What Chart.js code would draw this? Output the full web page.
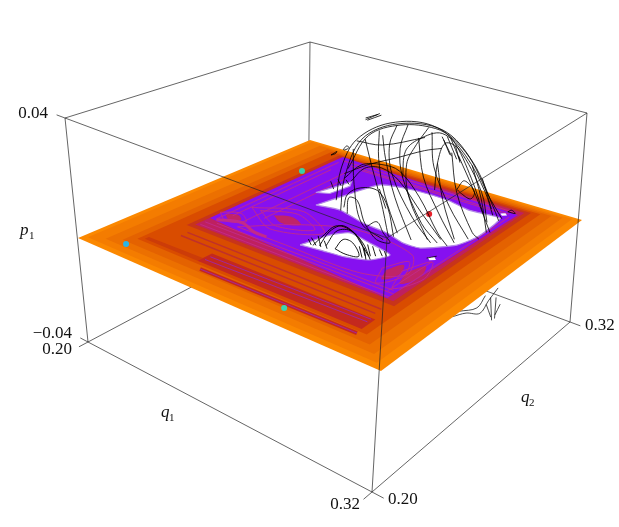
<!DOCTYPE html>
<html>
<head>
<meta charset="utf-8">
<script src="https://cdn.jsdelivr.net/npm/chart.js@4"></script>
<style>
  html, body { margin: 0; background: #fff; }
  canvas { display: block; }
</style>
</head>
<body>
<canvas id="chart3d" width="619" height="527"></canvas>
<script>
// axis ranges and tick labels
const q1Range = [0.20, 0.32];
const q2Range = [0.20, 0.32];
const pRange = [-0.04, 0.04];
const q1Ticks = ['0.20', '0.32'];
const q2Ticks = ['0.20', '0.32'];
const pTicks = ['\u22120.04', '0.04'];

// colour bands of the p1 = 0 slice, outermost first
const bandQ1Lo = [0.2000, 0.2020, 0.2072, 0.2120, 0.2150, 0.2198, 0.2216];
const bandQ1Hi = [0.3200, 0.3170, 0.3140, 0.3104, 0.3068, 0.3038, 0.3020];
const bandQ2Lo = [0.2000, 0.2024, 0.2054, 0.2084, 0.2120, 0.2296, 0.2318];
const bandQ2Hi = [0.3200, 0.3186, 0.3174, 0.3162, 0.3150, 0.3138, 0.3122];
const bandColors = ['#fb8800', '#f47c00', '#ec7000', '#e46200', '#d94c00', '#c8341a', '#be2060'];

// chaotic (purple) part of the slice
const seaQ1 = [0.2218, 0.2218, 0.3011, 0.2996];
const seaQ2 = [0.2387, 0.3136, 0.3093, 0.2322];

// white holes of the slice
const mainHoleQ1 = [0.2425, 0.2455, 0.2493, 0.2612, 0.2755, 0.2859, 0.2976, 0.2986, 0.2991, 0.2971, 0.2891, 0.2829, 0.2746, 0.2639, 0.2516];
const mainHoleQ2 = [0.2705, 0.2847, 0.3000, 0.3040, 0.3044, 0.3018, 0.3031, 0.2977, 0.2848, 0.2754, 0.2658, 0.2653, 0.2681, 0.2692, 0.2726];
const sliverQ1 = [0.2356, 0.2377, 0.2394, 0.2415, 0.2400];
const sliverQ2 = [0.2791, 0.2875, 0.2957, 0.2918, 0.2817];
const lowHoleQ1 = [0.2582, 0.2611, 0.2652, 0.2746, 0.2845, 0.2816, 0.2744, 0.2654];
const lowHoleQ2 = [0.2426, 0.2546, 0.2602, 0.2583, 0.2555, 0.2486, 0.2452, 0.2439];
const tinyHole1Q1 = [0.2945, 0.2960, 0.2975, 0.2960];
const tinyHole1Q2 = [0.2620, 0.2635, 0.2620, 0.2605];
const tinyHole2Q1 = [0.2958, 0.2971, 0.2984, 0.2971];
const tinyHole2Q2 = [0.3065, 0.3078, 0.3065, 0.3052];

// red islands inside the purple part
const islandQ1 = [
  [0.2236, 0.2272, 0.2308, 0.2272],
  [0.2368, 0.2428, 0.2488, 0.2428],
  [0.2893, 0.2917, 0.2941, 0.2917],
  [0.2951, 0.2975, 0.2999, 0.2975]
];
const islandQ2 = [
  [0.2444, 0.2468, 0.2444, 0.2420],
  [0.2544, 0.2574, 0.2544, 0.2514],
  [0.2466, 0.2526, 0.2466, 0.2406],
  [0.2490, 0.2562, 0.2490, 0.2418]
];

// magenta filaments inside the purple part
const filamentQ1 = [
  [0.2336, 0.2540, 0.2840, 0.2960, 0.2900, 0.2660, 0.2480, 0.2336],
  [0.2228, 0.2996],
  [0.2228, 0.2996],
  [0.2264, 0.2984],
  [0.2240, 0.2240],
  [0.2264, 0.2264],
  [0.2240, 0.2996],
  [0.2300, 0.2984],
  [0.2996, 0.2996],
  [0.2972, 0.2972],
  [0.2308, 0.2428, 0.2548, 0.2428, 0.2308],
  [0.2212, 0.2272, 0.2332, 0.2272, 0.2212],
  [0.2268, 0.2428, 0.2588, 0.2428, 0.2268],
  [0.2877, 0.2917, 0.2957, 0.2917, 0.2877],
  [0.2935, 0.2975, 0.3015, 0.2975, 0.2935],
  [0.2360, 0.2960],
  [0.2360, 0.2360],
  [0.2324, 0.2324]
];
const filamentQ2 = [
  [0.2396, 0.2396, 0.2396, 0.2480, 0.2600, 0.2636, 0.2540, 0.2396],
  [0.2330, 0.2330],
  [0.2354, 0.2354],
  [0.2372, 0.2372],
  [0.2396, 0.3080],
  [0.2450, 0.3000],
  [0.3104, 0.3104],
  [0.3080, 0.3080],
  [0.2384, 0.3056],
  [0.2360, 0.2600],
  [0.2544, 0.2604, 0.2544, 0.2484, 0.2544],
  [0.2444, 0.2484, 0.2444, 0.2404, 0.2444],
  [0.2544, 0.2634, 0.2544, 0.2454, 0.2544],
  [0.2466, 0.2556, 0.2466, 0.2376, 0.2466],
  [0.2490, 0.2600, 0.2490, 0.2380, 0.2490],
  [0.3068, 0.3068],
  [0.2504, 0.2960],
  [0.2420, 0.3020]
];
const wiggleQ1 = [0.2244, 0.2324, 0.2404, 0.2460];
const wiggleQ2 = [0.2391, 0.2430, 0.2402, 0.2401];

// stripes in the dark band on the q2 = 0.20 side
const stripeQ1 = [
  [0.2169, 0.2408],
  [0.2408, 0.3040],
  [0.2453, 0.3043]
];
const stripeQ2 = [
  [0.2153, 0.2159],
  [0.2159, 0.2175],
  [0.2101, 0.2109]
];
const thinStripeQ1 = [
  [0.2420, 0.3030],
  [0.2420, 0.3030],
  [0.2453, 0.3043]
];
const thinStripeQ2 = [
  [0.2156, 0.2176],
  [0.2180, 0.2194],
  [0.2101, 0.2109]
];
const redLineQ1 = [
  [0.2240, 0.3020],
  [0.2240, 0.3020]
];
const redLineQ2 = [
  [0.2228, 0.2228],
  [0.2258, 0.2258]
];

const orbitQ2 = 0.26;
const domeQ1 = [
  [0.2613, 0.2626, 0.2693, 0.2826, 0.2991, 0.3099, 0.3183, 0.3195],
  [0.2640, 0.2719, 0.2840, 0.2965, 0.3025, 0.3097, 0.3145],
  [0.2853, 0.2860, 0.2906, 0.2989, 0.3073, 0.3145, 0.3175],
  [0.2971, 0.2977, 0.3001, 0.3049, 0.3133, 0.3157],
  [0.2773, 0.2786, 0.2826, 0.2893],
  [0.2706, 0.2733, 0.2773, 0.2806],
  [0.2660, 0.2666, 0.2699, 0.2786],
  [0.2941, 0.2899, 0.2866, 0.2879, 0.2953],
  [0.2826, 0.2800, 0.2813, 0.2893, 0.2965],
  [0.2760, 0.2760, 0.2786, 0.2840],
  [0.2626, 0.2693, 0.2773, 0.2840, 0.2917, 0.2989, 0.3025],
  [0.2653, 0.2706, 0.2773, 0.2840, 0.2929, 0.3001],
  [0.2626, 0.2640, 0.2693, 0.2760, 0.2800, 0.2826],
  [0.2673, 0.2773, 0.2929],
  [0.2626, 0.2719, 0.2826, 0.2929, 0.2989],
  [0.3025, 0.3049, 0.3109, 0.3133],
  [0.2977, 0.3001, 0.3049],
  [0.3049, 0.3109, 0.3169],
  [0.2989, 0.3025],
  [0.3007, 0.3043],
  [0.3019, 0.3055],
  [0.3049, 0.3073, 0.3109, 0.3097, 0.3061, 0.3049],
  [0.2719, 0.2760, 0.2786, 0.2813, 0.2760, 0.2719],
  [0.2766, 0.2793],
  [0.2570, 0.2583],
  [0.2600, 0.2613],
  [0.2633, 0.2646],
  [0.2953, 0.2989],
  [0.3223, 0.3235, 0.3247, 0.3223],
  [0.2706, 0.2760],
  [0.2706, 0.2753],
  [0.2713, 0.2766],
  [0.2570, 0.2594, 0.2587, 0.2570],
  [0.2620, 0.2633, 0.2643, 0.2626, 0.2620],
  [0.2594, 0.2613, 0.2673, 0.2800, 0.2953, 0.3073, 0.3163, 0.3205],
  [0.2906, 0.2929, 0.2989, 0.3049],
  [0.2953, 0.2965, 0.3025, 0.3097],
  [0.2866, 0.2840, 0.2853, 0.2929, 0.2989],
  [0.3097, 0.3133, 0.3157],
  [0.3133, 0.3169],
  [0.2640, 0.2646, 0.2680, 0.2706, 0.2719],
  [0.2995, 0.3019],
  [0.3037, 0.3055]
];
const domeP = [
  [0.0068, 0.0185, 0.0341, 0.0431, 0.0456, 0.0378, 0.0236, 0.0212],
  [0.0223, 0.0361, 0.0431, 0.0454, 0.0434, 0.0322, 0.0213],
  [0.0253, 0.0346, 0.0400, 0.0444, 0.0393, 0.0292, 0.0223],
  [0.0246, 0.0339, 0.0414, 0.0408, 0.0288, 0.0194],
  [0.0377, 0.0301, 0.0177, 0.0050],
  [0.0345, 0.0262, 0.0150, 0.0035],
  [0.0298, 0.0175, 0.0049, 0.0018],
  [0.0451, 0.0380, 0.0303, 0.0193, 0.0070],
  [0.0427, 0.0351, 0.0253, 0.0129, 0.0063],
  [0.0390, 0.0293, 0.0177, 0.0057],
  [0.0185, 0.0251, 0.0275, 0.0272, 0.0205, 0.0104, 0.0071],
  [0.0182, 0.0243, 0.0263, 0.0238, 0.0152, 0.0086],
  [0.0083, 0.0133, 0.0171, 0.0180, 0.0135, 0.0041],
  [0.0330, 0.0343, 0.0413],
  [0.0202, 0.0259, 0.0313, 0.0368, 0.0393],
  [0.0389, 0.0260, 0.0145, 0.0130],
  [0.0339, 0.0222, 0.0102],
  [0.0385, 0.0281, 0.0164],
  [0.0433, 0.0377],
  [0.0439, 0.0372],
  [0.0437, 0.0370],
  [0.0272, 0.0308, 0.0281, 0.0254, 0.0264, 0.0272],
  [0.0043, 0.0072, 0.0041, 0.0015, 0.0010, 0.0043],
  [0.0188, 0.0128],
  [0.0159, 0.0135],
  [0.0174, 0.0156],
  [0.0182, 0.0169],
  [0.0007, 0.0025],
  [0.0251, 0.0260, 0.0253, 0.0251],
  [0.0413, 0.0449],
  [0.0419, 0.0444],
  [0.0413, 0.0445],
  [0.0252, 0.0271, 0.0261, 0.0252],
  [0.0285, 0.0301, 0.0298, 0.0285, 0.0285],
  [0.0099, 0.0218, 0.0335, 0.0427, 0.0461, 0.0404, 0.0275, 0.0222],
  [0.0405, 0.0277, 0.0172, 0.0090],
  [0.0438, 0.0323, 0.0207, 0.0118],
  [0.0439, 0.0351, 0.0253, 0.0118, 0.0070],
  [0.0367, 0.0266, 0.0160],
  [0.0334, 0.0243],
  [0.0065, 0.0123, 0.0123, 0.0062, 0.0043],
  [0.0424, 0.0380],
  [0.0415, 0.0364]
];
// small dome over the lower hole
const smallDomeQ1 = [
  [0.2498, 0.2541, 0.2594, 0.2653, 0.2706, 0.2739],
  [0.2527, 0.2570, 0.2626, 0.2693, 0.2719],
  [0.2555, 0.2600, 0.2660, 0.2706, 0.2733],
  [0.2594, 0.2626, 0.2666, 0.2693, 0.2640, 0.2594],
  [0.2491, 0.2512],
  [0.2520, 0.2533],
  [0.2726, 0.2739],
  [0.2746, 0.2760],
  [0.2773, 0.2786],
  [0.2478, 0.2491],
  [0.2547, 0.2560],
  [0.2693, 0.2706],
  [0.2713, 0.2722],
  [0.2793, 0.2802]
];
const smallDomeP = [
  [-0.0099, -0.0047, 0.0008, 0.0012, -0.0019, -0.0072],
  [-0.0090, -0.0019, 0.0018, -0.0011, -0.0066],
  [-0.0081, -0.0008, 0.0009, -0.0032, -0.0062],
  [-0.0080, -0.0033, -0.0033, -0.0075, -0.0086, -0.0080],
  [-0.0070, -0.0094],
  [-0.0054, -0.0093],
  [-0.0019, -0.0059],
  [-0.0019, -0.0052],
  [-0.0022, -0.0043],
  [-0.0080, -0.0099],
  [-0.0064, -0.0091],
  [-0.0037, -0.0076],
  [-0.0036, -0.0078],
  [-0.0022, -0.0038]
];
// orbit pieces hanging under the slice
const underQ1 = [
  [0.3063, 0.3110, 0.3157, 0.3181, 0.3208],
  [0.3085, 0.3145, 0.3169],
  [0.3187, 0.3199],
  [0.3205, 0.3208],
  [0.3221, 0.3208],
  [0.3175, 0.3195]
];
const underP = [
  [-0.0167, -0.0136, -0.0119, -0.0065, -0.0009],
  [-0.0139, -0.0104, -0.0051],
  [-0.0051, -0.0128],
  [-0.0044, -0.0118],
  [-0.0062, -0.0105],
  [-0.0080, -0.0118]
];

// the four marked points on the slice
const dotQ1 = [0.2151, 0.2188, 0.2803, 0.2771];
const dotQ2 = [0.2071, 0.2918, 0.2085, 0.2900];
const dotColors = ['#2ab5e5', '#3acfa8', '#3cd6b0', '#e8202a'];

// camera: where the box corners land, at p1 = -0.04, 0 and 0.04
const viewBottom = [[88, 342], [372, 492], [570, 322], [308, 225]];
const viewMiddle = [[78, 238], [381, 371], [582, 220], [310, 140]];
const viewTop = [[65, 118], [387, 238], [587, 113], [310, 42]];

function homography(c) {
  const dx1 = c[1][0] - c[2][0], dx2 = c[3][0] - c[2][0], sx = c[0][0] - c[1][0] + c[2][0] - c[3][0];
  const dy1 = c[1][1] - c[2][1], dy2 = c[3][1] - c[2][1], sy = c[0][1] - c[1][1] + c[2][1] - c[3][1];
  const den = dx1 * dy2 - dx2 * dy1;
  const g = (sx * dy2 - dx2 * sy) / den;
  const h = (dx1 * sy - sx * dy1) / den;
  const a = c[1][0] - c[0][0] + g * c[1][0], b = c[3][0] - c[0][0] + h * c[3][0];
  const d = c[1][1] - c[0][1] + g * c[1][1], e = c[3][1] - c[0][1] + h * c[3][1];
  return (u, v) => {
    const w = g * u + h * v + 1;
    return { x: (a * u + b * v + c[0][0]) / w, y: (d * u + e * v + c[0][1]) / w };
  };
}
const layerBottom = homography(viewBottom);
const layerMiddle = homography(viewMiddle);
const layerTop = homography(viewTop);

function project(q1, q2, p) {
  const u = (q1 - q1Range[0]) / (q1Range[1] - q1Range[0]);
  const v = (q2 - q2Range[0]) / (q2Range[1] - q2Range[0]);
  const m = layerMiddle(u, v);
  const e = p >= 0 ? layerTop(u, v) : layerBottom(u, v);
  const t = Math.abs(p) / pRange[1];
  return { x: m.x + (e.x - m.x) * t, y: m.y + (e.y - m.y) * t };
}

const datasets = [];
function addLine(pts, color, width, tension) {
  datasets.push({
    data: pts, showLine: true, pointRadius: 0, borderColor: color,
    borderWidth: width, tension: tension || 0, fill: false, clip: false
  });
}
function addShape(q1s, q2s, color, tension, edge) {
  const pts = q1s.map((q, i) => project(q, q2s[i], 0));
  pts.push(pts[0]);
  datasets.push({
    data: pts, showLine: true, pointRadius: 0, borderColor: edge || color,
    borderWidth: edge ? 1.2 : 0, backgroundColor: color,
    tension: tension || 0, fill: 'shape', clip: false
  });
}
function addEdge(a, b) {
  addLine([project(a[0], a[1], a[2]), project(b[0], b[1], b[2])], '#222', 0.7);
}

const [q0, q9] = q1Range, [r0, r9] = q2Range, [p0, p9] = pRange;
const LINE_BLACK = '#000';

// back of the box, hidden behind the slice
addEdge([q0, r9, p0], [q0, r9, p9]);
addEdge([q0, r0, p0], [q0, r9, p0]);
addEdge([q0, r9, p0], [q9, r9, p0]);
addEdge([q0, r0, p9], [q0, r9, p9]);
addEdge([q0, r9, p9], [q9, r9, p9]);

underQ1.forEach((qs, i) => addLine(qs.map((q, j) => project(q, orbitQ2, underP[i][j])), LINE_BLACK, 0.7, 0.35));

// the slice
bandColors.forEach((col, i) => {
  const lo1 = bandQ1Lo[i], hi1 = bandQ1Hi[i], lo2 = bandQ2Lo[i], hi2 = bandQ2Hi[i];
  addShape([lo1, hi1, hi1, lo1], [lo2, lo2, hi2, hi2], col);
});
addShape([stripeQ1[0][0], stripeQ1[0][1], stripeQ1[0][1], stripeQ1[0][0]], [0.2135, 0.2135, stripeQ2[0][1], stripeQ2[0][0]], '#cc3c08');
addShape([stripeQ1[1][0], stripeQ1[1][1], stripeQ1[1][1], stripeQ1[1][0]], [0.2135, 0.2135, 0.2200, 0.2200], '#c4281e');
addLine(stripeQ1[2].map((q, j) => project(q, stripeQ2[2][j], 0)), '#c4281e', 4);
thinStripeQ1.forEach((qs, i) => addLine(qs.map((q, j) => project(q, thinStripeQ2[i][j], 0)), '#9a26b8', 0.8));
redLineQ1.forEach((qs, i) => addLine(qs.map((q, j) => project(q, redLineQ2[i][j], 0)), '#c0302a', 1.5));

addShape(seaQ1, seaQ2, '#8610f0');
islandQ1.forEach((qs, i) => addShape(qs, islandQ2[i], '#c02468', 0.4));
filamentQ1.forEach((qs, i) => addLine(qs.map((q, j) => project(q, filamentQ2[i][j], 0)), '#c22a8a', 0.9, 0.3));
addLine(wiggleQ1.map((q, j) => project(q, wiggleQ2[j], 0)), '#c22a8a', 3, 0.4);

addShape(mainHoleQ1, mainHoleQ2, '#ffffff', 0.2, '#b48ae8');
addShape(sliverQ1, sliverQ2, '#ffffff', 0, '#b48ae8');
addShape(lowHoleQ1, lowHoleQ2, '#ffffff', 0.2, '#b48ae8');
addShape(tinyHole1Q1, tinyHole1Q2, '#ffffff');
addShape(tinyHole2Q1, tinyHole2Q2, '#ffffff');

// marked points
datasets.push({
  data: dotQ1.map((q, i) => project(q, dotQ2[i], 0)),
  showLine: false, pointRadius: 3, pointBorderWidth: 0,
  pointBackgroundColor: dotColors, clip: false
});

// orbits above the slice
domeQ1.forEach((qs, i) => addLine(qs.map((q, j) => project(q, orbitQ2, domeP[i][j])), LINE_BLACK, 0.8, 0.35));
smallDomeQ1.forEach((qs, i) => addLine(qs.map((q, j) => project(q, orbitQ2, smallDomeP[i][j])), LINE_BLACK, 0.9, 0.35));

// front of the box and the ticks
addEdge([q0, r0, p0], [q0, r0, p9]);
addEdge([q9, r9, p0], [q9, r9, p9]);
addEdge([q9, r0, p0], [q9, r0, p9]);
addEdge([q0, r0, p0], [q9, r0, p0]);
addEdge([q9, r0, p0], [q9, r9, p0]);
addEdge([q0, r0, p9], [q9, r0, p9]);
addEdge([q9, r0, p9], [q9, r9, p9]);
addEdge([q0, r0, p0], [q0 - 0.004, r0, p0]);
addEdge([q0, r0, p0], [q0, r0 - 0.004, p0]);
addEdge([q0, r0, p9], [q0 - 0.004, r0, p9]);
addEdge([q9, r0, p0], [q9 + 0.004, r0, p0]);
addEdge([q9, r0, p0], [q9, r0 - 0.004, p0]);
addEdge([q9, r9, p0], [q9 + 0.004, r9, p0]);

datasets.forEach((d, i) => { d.order = -i; });

const textPlugin = {
  id: 'axisText',
  afterDraw(chart) {
    const c = chart.ctx;
    const put = (text, x, y, align, font) => {
      c.font = font; c.textAlign = align; c.textBaseline = 'middle'; c.fillStyle = '#111';
      c.fillText(text, x, y);
    };
    const num = '17px "Liberation Serif"', ital = 'italic 17px "Liberation Serif"', sub = '11px "Liberation Serif"';
    let k = project(q0, r0, p9); put(pTicks[1], k.x - 17, k.y - 4, 'right', num);
    k = project(q0, r0, p0); put(pTicks[0], k.x - 16, k.y - 8, 'right', num);
    put(q1Ticks[0], k.x - 16, k.y + 8, 'right', num);
    k = project(q9, r0, p0); put(q1Ticks[1], k.x - 12, k.y + 13, 'right', num);
    put(q2Ticks[0], k.x + 16, k.y + 8, 'left', num);
    k = project(q9, r9, p0); put(q2Ticks[1], k.x + 15, k.y + 4, 'left', num);
    put('q', 161, 413, 'left', ital); put('1', 169, 418, 'left', sub);
    put('q', 521, 398, 'left', ital); put('2', 529, 403, 'left', sub);
    put('p', 20, 231, 'left', ital); put('1', 29, 236, 'left', sub);
  }
};

new Chart(document.getElementById('chart3d'), {
  type: 'scatter',
  data: { datasets },
  options: {
    responsive: false,
    animation: false,
    layout: { padding: 0, autoPadding: false },
    plugins: { legend: { display: false }, tooltip: { enabled: false } },
    scales: {
      x: { type: 'linear', display: false, min: 0, max: 619 },
      y: { type: 'linear', display: false, min: 0, max: 527, reverse: true }
    }
  },
  plugins: [textPlugin]
});
</script>
</body>
</html>
